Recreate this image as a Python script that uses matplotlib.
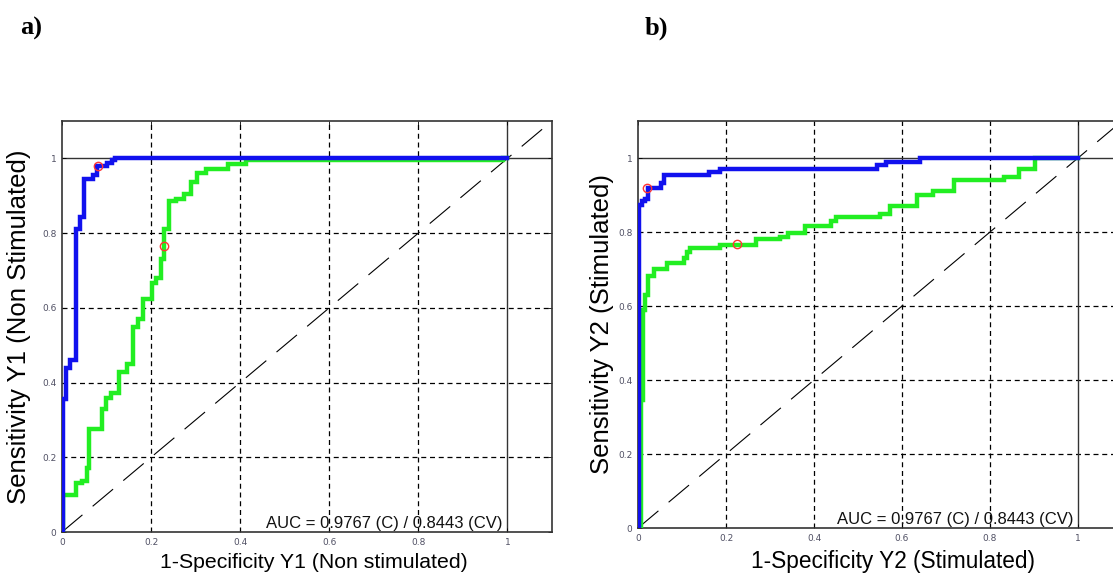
import matplotlib
matplotlib.use("Agg")
import matplotlib.pyplot as plt
import numpy as np

# ROC curves, (1-specificity, sensitivity) at each rise of the staircase
a_blue_x = [0, 0.003, 0.009, 0.019, 0.031, 0.040, 0.049, 0.070, 0.079, 0.101, 0.113, 0.120, 1.0]
a_blue_y = [0, 0.355, 0.44, 0.46, 0.81, 0.844, 0.944, 0.955, 0.98, 0.987, 0.996, 1.0, 1.0]
a_green_x = [0, 0.003, 0.032, 0.044, 0.056, 0.060, 0.089, 0.098, 0.109, 0.129, 0.147, 0.160,
             0.171, 0.182, 0.203, 0.210, 0.222, 0.229, 0.240, 0.255, 0.274, 0.289, 0.304,
             0.323, 0.372, 0.413, 0.99, 1.0]
a_green_y = [0, 0.098, 0.13, 0.136, 0.17, 0.277, 0.328, 0.359, 0.373, 0.429, 0.449, 0.55,
             0.57, 0.623, 0.667, 0.681, 0.73, 0.812, 0.886, 0.89, 0.904, 0.936, 0.962,
             0.971, 0.985, 0.996, 1.0, 1.0]
a_opt_x = [0.080, 0.229]
a_opt_y = [0.979, 0.765]

b_blue_x = [0, 0.003, 0.009, 0.017, 0.023, 0.053, 0.059, 0.162, 0.186, 0.543, 0.563, 0.640, 1.0]
b_blue_y = [0, 0.874, 0.883, 0.89, 0.92, 0.933, 0.953, 0.962, 0.971, 0.98, 0.99, 1.0, 1.0]
b_green_x = [0, 0.006, 0.012, 0.017, 0.023, 0.036, 0.066, 0.105, 0.111, 0.119, 0.186, 0.268,
             0.322, 0.342, 0.380, 0.439, 0.450, 0.551, 0.572, 0.633, 0.670, 0.718, 0.831,
             0.866, 0.903, 1.0]
b_green_y = [0, 0.345, 0.59, 0.63, 0.68, 0.70, 0.717, 0.73, 0.745, 0.757, 0.766, 0.78,
             0.787, 0.796, 0.817, 0.83, 0.84, 0.85, 0.87, 0.90, 0.91, 0.94, 0.95,
             0.97, 1.0, 1.0]
b_opt_x = [0.020, 0.224]
b_opt_y = [0.920, 0.768]

ticks = [0, 0.2, 0.4, 0.6, 0.8, 1]
tick_labels = ["0", "0.2", "0.4", "0.6", "0.8", "1"]
auc_text = "AUC = 0.9767 (C) / 0.8443 (CV)"

W, H = 1113, 575
fig = plt.figure(figsize=(W / 100, H / 100), dpi=100)
fig.patch.set_facecolor("white")


def roc_panel(rect, bx, by, gx, gy, ox, oy, xlab, ylab, ylab_x, xlab_pos, xsize):
    ax = fig.add_axes(rect)
    ax.set_xlim(0, 1.1)
    ax.set_ylim(0, 1.1)
    for v in ticks[1:-1]:
        ax.axvline(v, color="black", lw=0.9, ls=(0, (4, 3)), zorder=1)
        ax.axhline(v, color="black", lw=0.9, ls=(0, (4, 3)), zorder=1)
    ax.axvline(1, color="#333333", lw=1.0, zorder=1)
    ax.axhline(1, color="#333333", lw=1.0, zorder=1)
    ax.plot([0, 1.1], [0, 1.1], color="black", lw=0.8, ls=(0, (24, 12)), zorder=2)
    ax.plot(gx, gy, color="#22ee22", lw=3.2, drawstyle="steps-post", zorder=3,
            solid_joinstyle="miter")
    ax.plot(bx, by, color="#1111ee", lw=3.2, drawstyle="steps-post", zorder=4,
            solid_joinstyle="miter")
    ax.plot(ox, oy, "o", mfc="none", mec="#ff3333", ms=6, mew=1.0, zorder=5)
    ax.text(0.99, 0.004, auc_text, ha="right", va="bottom", fontsize=12,
            family="Liberation Sans", color="#111111", zorder=6)
    ax.set_xticks(ticks)
    ax.set_yticks(ticks)
    ax.set_xticklabels(tick_labels)
    ax.set_yticklabels(tick_labels)
    ax.tick_params(direction="in", length=3, width=0.6, labelsize=6.5,
                   labelcolor="#505064", pad=4, top=True, right=True)
    for s in ax.spines.values():
        s.set_color("#333333")
        s.set_linewidth(1.2)
    ax.set_xlabel(xlab, fontsize=xsize, family="Liberation Sans")
    ax.xaxis.set_label_coords(*xlab_pos)
    ax.set_ylabel(ylab, fontsize=18.5, family="Liberation Sans")
    ax.yaxis.set_label_coords(ylab_x, 0.5)
    return ax


ax1 = roc_panel([62 / W, 43 / H, 490 / W, 411 / H],
                a_blue_x, a_blue_y, a_green_x, a_green_y, a_opt_x, a_opt_y,
                "1-Specificity Y1 (Non stimulated)", "Sensitivity Y1 (Non Stimulated)",
                -0.063, (0.514, -0.051), 15.3)
ax2 = roc_panel([638 / W, 47 / H, 484 / W, 407 / H],
                b_blue_x, b_blue_y, b_green_x, b_green_y, b_opt_x, b_opt_y,
                "1-Specificity Y2 (Stimulated)", "Sensitivity Y2 (Stimulated)",
                -0.05, (0.526, -0.053), 16.3)

fig.text(20 / W, 1 - 28 / H, "a)", fontsize=19, fontweight="bold",
         family="Liberation Serif", va="center", ha="left")
fig.text(645 / W, 1 - 28 / H, "b)", fontsize=19, fontweight="bold",
         family="Liberation Serif", va="center", ha="left")

fig.savefig("out.png", dpi=100, facecolor="white")
